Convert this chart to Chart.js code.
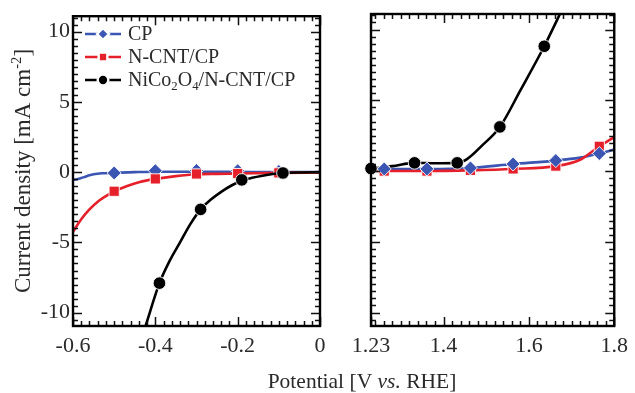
<!DOCTYPE html>
<html><head><meta charset="utf-8">
<script src="https://cdn.jsdelivr.net/npm/chart.js@4.4.1/dist/chart.umd.min.js"></script>
<style>
html,body{margin:0;padding:0;background:#fff;}
#wrap{position:relative;width:635px;height:393px;overflow:hidden;}
canvas{position:absolute;left:0;top:0;}
</style></head><body>
<div id="wrap"><canvas id="c1" width="635" height="393"></canvas><canvas id="c2" width="635" height="393"></canvas></div>
<script>
// ---------- DATA ----------
const seriesNames = ['CP', 'N-CNT/CP', 'NiCo2O4/N-CNT/CP'];
const yTickValues = [-10, -5, 0, 5, 10];
const leftTickValues = [-0.6, -0.4, -0.2, 0];
const leftTickLabels = ['-0.6', '-0.4', '-0.2', '0'];
const rightTickValues = [1.23, 1.4, 1.6, 1.8];
const rightTickLabels = ['1.23', '1.4', '1.6', '1.8'];

// Left panel (HER region)
const leftCpCurveX = [-0.6, -0.59, -0.58, -0.57, -0.56, -0.55, -0.53, -0.5, -0.45, -0.4, -0.35, -0.3, -0.25, -0.2, -0.15, -0.1, -0.05, 0];
const leftCpCurveY = [-0.55, -0.5, -0.42, -0.32, -0.22, -0.15, -0.08, -0.05, 0, 0.03, 0.03, 0.03, 0.02, 0.02, 0.01, 0, 0, 0];
const leftCpMarkX = [-0.5, -0.4, -0.3, -0.2, -0.1];
const leftCpMarkY = [-0.06, 0.1, 0.12, 0.1, 0.05];

const leftNcntCurveX = [-0.6, -0.58, -0.56, -0.54, -0.52, -0.5, -0.47, -0.44, -0.4, -0.35, -0.3, -0.25, -0.2, -0.1, 0];
const leftNcntCurveY = [-4.25, -3.35, -2.65, -2.1, -1.7, -1.36, -1.0, -0.72, -0.48, -0.28, -0.15, -0.12, -0.1, -0.05, -0.03];
const leftNcntMarkX = [-0.5, -0.4, -0.3, -0.2, -0.1];
const leftNcntMarkY = [-1.36, -0.48, -0.13, -0.1, -0.05];

const leftNicoCurveX = [-0.44, -0.42, -0.39, -0.365, -0.34, -0.315, -0.29, -0.265, -0.24, -0.215, -0.19, -0.165, -0.14, -0.115, -0.09, -0.05, 0];
const leftNicoCurveY = [-12.5, -10.6, -7.9, -6.3, -5.0, -3.7, -2.65, -1.95, -1.4, -0.95, -0.6, -0.4, -0.25, -0.13, -0.06, -0.02, 0];
const leftNicoMarkX = [-0.39, -0.29, -0.19, -0.09];
const leftNicoMarkY = [-7.9, -2.65, -0.55, -0.06];

// Right panel (OER region)
const rightCpCurveX = [1.23, 1.261, 1.361, 1.463, 1.563, 1.663, 1.72, 1.765, 1.8];
const rightCpCurveY = [0.15, 0.15, 0.15, 0.22, 0.5, 0.74, 0.95, 1.24, 1.52];
const rightCpMarkX = [1.261, 1.361, 1.463, 1.563, 1.663, 1.765];
const rightCpMarkY = [0.15, 0.15, 0.22, 0.5, 0.74, 1.24];

const rightNcntCurveX = [1.23, 1.261, 1.361, 1.463, 1.563, 1.663, 1.72, 1.765, 1.8];
const rightNcntCurveY = [0, 0, 0, 0.05, 0.15, 0.35, 0.8, 1.75, 2.4];
const rightNcntMarkX = [1.261, 1.361, 1.463, 1.563, 1.663, 1.765];
const rightNcntMarkY = [0, 0, 0.05, 0.15, 0.35, 1.75];

const rightNicoCurveX = [1.23, 1.28, 1.332, 1.38, 1.432, 1.455, 1.49, 1.532, 1.58, 1.636, 1.66, 1.69];
const rightNicoCurveY = [0.18, 0.35, 0.58, 0.55, 0.58, 0.85, 1.8, 3.12, 5.7, 8.82, 10.3, 12.2];
const rightNicoMarkX = [1.23, 1.332, 1.432, 1.532, 1.636];
const rightNicoMarkY = [0.18, 0.58, 0.58, 3.12, 8.82];

// ---------- STYLE ----------
const BLUE = '#3a55b2', RED = '#e6202a', BLACK = '#000000';
const SERIF = '"Liberation Serif", "DejaVu Serif", serif';
const TXT = '#2a2a2a';
const Y_MIN = -10.95, Y_MAX = 11.1;
const X_MINOR = 0.02, Y_MINOR = 0.5;

const pts = (xs, ys) => xs.map((x, i) => ({x, y: ys[i]}));

function lineDs(xs, ys, color, order) {
  return {data: pts(xs, ys), showLine: true, borderColor: color, borderWidth: 2.6, pointRadius: 0,
    pointHoverRadius: 0, cubicInterpolationMode: 'monotone', fill: false, order};
}
const markerStyles = {
  CP: {pointStyle: 'rectRot', pointRadius: 7, color: BLUE},
  NCNT: {pointStyle: 'rect', pointRadius: 7.2, color: RED},
  NICO: {pointStyle: 'circle', pointRadius: 6.3, color: BLACK}
};
function markDs(xs, ys, key, order) {
  const s = markerStyles[key];
  return {data: pts(xs, ys), showLine: false, clip: false, pointStyle: s.pointStyle, pointRadius: s.pointRadius,
    pointBackgroundColor: s.color, pointBorderColor: 'rgba(255,255,255,0.9)', pointBorderWidth: 1, order};
}

// rich text helper: segments {t, sub, sup, it}
function richText(ctx, segs, x, y, size, align) {
  const f = (s) => `${s.it ? 'italic ' : ''}${(s.sub || s.sup) ? size * 0.64 : size}px ${SERIF}`;
  let total = 0;
  const ws = segs.map(s => { ctx.font = f(s); const w = ctx.measureText(s.t).width; total += w; return w; });
  let cx = align === 'center' ? x - total / 2 : x;
  ctx.textAlign = 'left'; ctx.textBaseline = 'alphabetic';
  segs.forEach((s, i) => {
    ctx.font = f(s);
    let dy = 0;
    if (s.sub) dy = size * 0.22;
    if (s.sup) dy = -size * 0.4;
    ctx.fillText(s.t, cx, y + dy);
    cx += ws[i];
  });
}

// frame + inward ticks on all sides
const framePlugin = {
  id: 'frame',
  afterDraw(chart) {
    const {ctx, chartArea: a, scales: {x, y}} = chart;
    ctx.save();
    ctx.strokeStyle = '#111';
    ctx.lineWidth = 1.5;
    const minorVals = (min, max, step) => {
      const out = [];
      for (let i = Math.ceil(min / step - 1e-9); i <= Math.floor(max / step + 1e-9); i++) out.push(i * step);
      return out;
    };
    ctx.beginPath();
    minorVals(x.min, x.max, X_MINOR).forEach(v => {
      const px = Math.round(x.getPixelForValue(v)) + 0.5;
      ctx.moveTo(px, a.bottom); ctx.lineTo(px, a.bottom - 5);
      ctx.moveTo(px, a.top); ctx.lineTo(px, a.top + 5);
    });
    x.ticks.forEach(t => {
      const px = Math.round(x.getPixelForValue(t.value)) + 0.5;
      ctx.moveTo(px, a.bottom); ctx.lineTo(px, a.bottom - 9);
      ctx.moveTo(px, a.top); ctx.lineTo(px, a.top + 9);
    });
    minorVals(y.min, y.max, Y_MINOR).forEach(v => {
      const py = Math.round(y.getPixelForValue(v)) + 0.5;
      ctx.moveTo(a.left, py); ctx.lineTo(a.left + 5, py);
      ctx.moveTo(a.right, py); ctx.lineTo(a.right - 5, py);
    });
    yTickValues.forEach(v => {
      const py = Math.round(y.getPixelForValue(v)) + 0.5;
      ctx.moveTo(a.left, py); ctx.lineTo(a.left + 9, py);
      ctx.moveTo(a.right, py); ctx.lineTo(a.right - 9, py);
    });
    ctx.stroke();
    ctx.lineWidth = 2.4;
    ctx.strokeStyle = '#000';
    ctx.strokeRect(a.left, a.top, a.right - a.left, a.bottom - a.top);
    ctx.restore();
  }
};

const legendPlugin = {
  id: 'customLegend',
  afterDraw(chart) {
    const {ctx} = chart;
    const entries = [
      {key: 'CP', y: 34, segs: [{t: seriesNames[0]}]},
      {key: 'NCNT', y: 57, segs: [{t: seriesNames[1]}]},
      {key: 'NICO', y: 80, segs: [{t: 'NiCo'}, {t: '2', sub: true}, {t: 'O'}, {t: '4', sub: true}, {t: '/N-CNT/CP'}]}
    ];
    ctx.save();
    entries.forEach(e => {
      const s = markerStyles[e.key];
      ctx.strokeStyle = s.color; ctx.lineWidth = 2.4;
      ctx.beginPath(); ctx.moveTo(85, e.y); ctx.lineTo(121, e.y); ctx.stroke();
      ctx.fillStyle = s.color; ctx.strokeStyle = '#fff';
      Chart.helpers.drawPoint(ctx, {pointStyle: s.pointStyle, radius: s.pointRadius * 0.85, rotation: 0, borderWidth: 1}, 103, e.y);
      ctx.fillStyle = TXT;
      richText(ctx, e.segs, 128, e.y + 6, 20, 'left');
    });
    // y-axis title
    ctx.translate(23, 171);
    ctx.rotate(-Math.PI / 2);
    richText(ctx, [{t: 'Current density [mA cm'}, {t: '-2', sup: true}, {t: ']'}], 0, 7, 23, 'center');
    ctx.restore();
  }
};

const xTitlePlugin = {
  id: 'xTitle',
  afterDraw(chart) {
    const {ctx} = chart;
    ctx.save();
    ctx.fillStyle = TXT;
    richText(ctx, [{t: 'Potential [V '}, {t: 'vs.', it: true}, {t: ' RHE]'}], 362, 388, 21.5, 'center');
    ctx.restore();
  }
};

function makeScales(xMin, xMax, xTicks, xLabels, showY) {
  return {
    x: {
      type: 'linear', min: xMin, max: xMax,
      afterBuildTicks: s => { s.ticks = xTicks.map(v => ({value: v})); },
      afterFit: s => { s.height = 67; },
      grid: {display: false, drawTicks: false},
      border: {display: false},
      ticks: {
        font: {family: SERIF, size: 22}, color: TXT, padding: 7, maxRotation: 0, autoSkip: false,
        callback: (v) => { const i = xTicks.findIndex(t => Math.abs(t - v) < 1e-9); return i >= 0 ? xLabels[i] : ''; }
      }
    },
    y: {
      type: 'linear', min: Y_MIN, max: Y_MAX, display: showY,
      afterBuildTicks: s => { s.ticks = yTickValues.map(v => ({value: v})); },
      afterFit: s => { s.width = showY ? 73 : 0; },
      grid: {display: false, drawTicks: false},
      border: {display: false},
      ticks: {font: {family: SERIF, size: 22}, color: TXT, padding: 3, callback: v => String(v)}
    }
  };
}

const common = {
  responsive: false, animation: false, devicePixelRatio: 1,
  plugins: {legend: {display: false}, tooltip: {enabled: false}},
  elements: {line: {tension: 0}}
};

new Chart(document.getElementById('c1'), {
  type: 'scatter',
  data: {datasets: [
    markDs(leftNicoMarkX, leftNicoMarkY, 'NICO', 0),
    lineDs(leftNicoCurveX, leftNicoCurveY, BLACK, 1),
    markDs(leftNcntMarkX, leftNcntMarkY, 'NCNT', 2),
    lineDs(leftNcntCurveX, leftNcntCurveY, RED, 3),
    markDs(leftCpMarkX, leftCpMarkY, 'CP', 4),
    lineDs(leftCpCurveX, leftCpCurveY, BLUE, 5)
  ]},
  options: Object.assign({}, common, {
    layout: {padding: {left: 0, top: 14, right: 315, bottom: 0}},
    scales: makeScales(-0.6, 0, leftTickValues, leftTickLabels, true)
  }),
  plugins: [framePlugin, legendPlugin]
});

new Chart(document.getElementById('c2'), {
  type: 'scatter',
  data: {datasets: [
    markDs(rightCpMarkX, rightCpMarkY, 'CP', 0),
    markDs(rightNcntMarkX, rightNcntMarkY, 'NCNT', 1),
    markDs(rightNicoMarkX, rightNicoMarkY, 'NICO', 2),
    lineDs(rightNicoCurveX, rightNicoCurveY, BLACK, 3),
    lineDs(rightNcntCurveX, rightNcntCurveY, RED, 4),
    lineDs(rightCpCurveX, rightCpCurveY, BLUE, 5)
  ]},
  options: Object.assign({}, common, {
    layout: {padding: {left: 371, top: 14, right: 19, bottom: 0}},
    scales: makeScales(1.23, 1.8, rightTickValues, rightTickLabels, false)
  }),
  plugins: [framePlugin, xTitlePlugin]
});
</script>
</body></html>
